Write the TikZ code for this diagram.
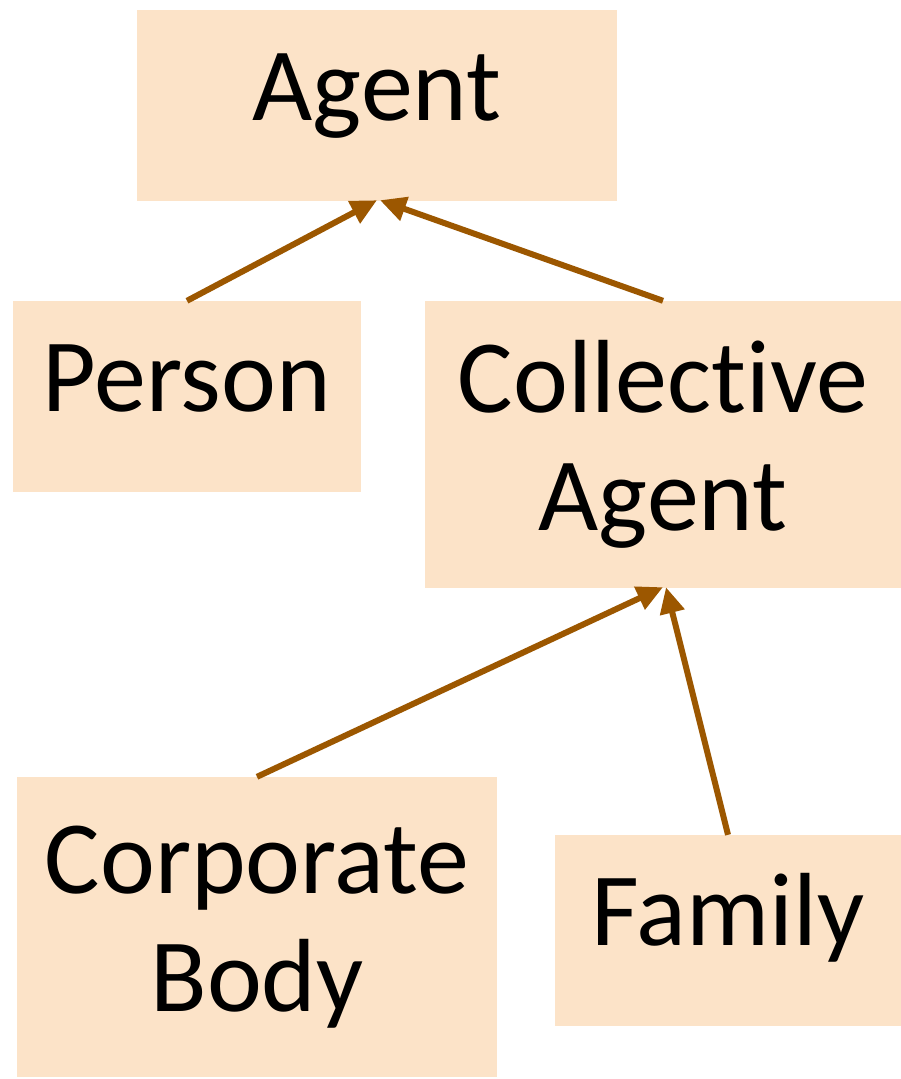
\documentclass[tikz,border=0pt]{standalone}
\usepackage{fontspec}
\setmainfont{Carlito}[Ligatures={NoCommon}]
\usetikzlibrary{arrows.meta, positioning, calc}

\definecolor{boxfill}{HTML}{FCE3C8}
\definecolor{arrowbrown}{HTML}{9C5700}

\begin{document}
\begin{tikzpicture}[x=1pt, y=1pt,
    box/.style={fill=boxfill, inner sep=0pt, align=center, font=\fontsize{104}{118}\selectfont},
    oneline/.style={text height=80pt, text depth=50pt},
    isa/.style={-{Triangle[length=26pt, width=24pt]}, draw=arrowbrown, line width=6pt}]

                        \useasboundingbox (0,0) rectangle (901,-1079);

                        % Nodes of the agent hierarchy
                        \node (agent) [box, oneline, minimum width=480pt, minimum height=191pt] at (377,-105.5) {Agent};
                        \node (person) [box, oneline, minimum width=348pt, minimum height=191pt] at (187,-396.5) {Person};
                        \node (collective) [box, minimum width=476pt, minimum height=287pt] at (663,-444.5) {Collective\\Agent};
                        \node (corporate) [box, minimum width=480pt, minimum height=300pt] at (257,-927) {Corporate\\Body};
                        \node (family) [box, oneline, minimum width=346pt, minimum height=191pt] at (728,-930.5) {Family};

                        % Edges pointing up to the parent class
                        \draw [isa] (person.north) to ($(agent.south)+(0,1)$);
                        \draw [isa] (collective.north) to ($(agent.south)+(3,1)$);
                        \draw [isa] (corporate.north) to ($(collective.south)+(0,1)$);
                        \draw [isa] (family.north) to ($(collective.south)+(3,1)$);
                \end{tikzpicture}
\end{document}
